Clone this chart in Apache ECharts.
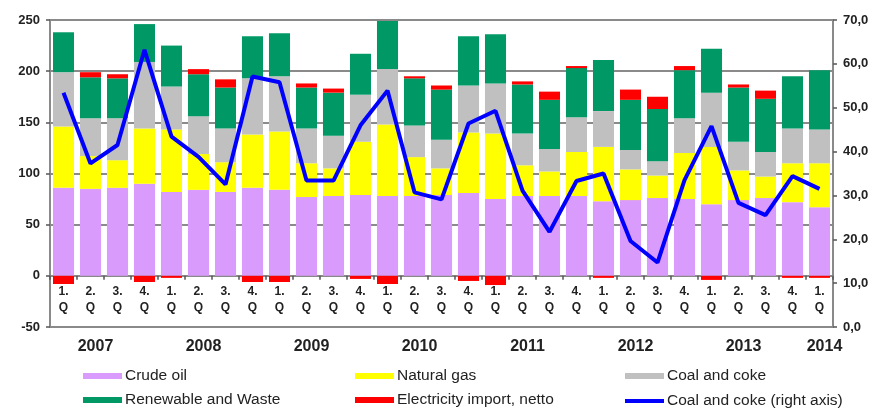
<!DOCTYPE html>
<html>
<head>
<meta charset="utf-8">
<script src="https://cdn.jsdelivr.net/npm/echarts@6/dist/echarts.min.js"></script>
<style>
html,body{margin:0;padding:0;background:#fff;}
#chart{width:876px;height:410px;}
</style>
</head>
<body>
<div id="chart"></div>
<script>
// Quarters 2007 Q1 .. 2014 Q1
var quarterYears = [2007,2007,2007,2007,2008,2008,2008,2008,2009,2009,2009,2009,2010,2010,2010,2010,2011,2011,2011,2011,2012,2012,2012,2012,2013,2013,2013,2013,2014];
var quarterLabels = ['1.\nQ','2.\nQ','3.\nQ','4.\nQ','1.\nQ','2.\nQ','3.\nQ','4.\nQ','1.\nQ','2.\nQ','3.\nQ','4.\nQ','1.\nQ','2.\nQ','3.\nQ','4.\nQ','1.\nQ','2.\nQ','3.\nQ','4.\nQ','1.\nQ','2.\nQ','3.\nQ','4.\nQ','1.\nQ','2.\nQ','3.\nQ','4.\nQ','1.\nQ'];
var years = ['2007','2008','2009','2010','2011','2012','2013','2014'];

var crudeOil = [86,85,86,90,82,84,82,86,84,77,78,79,78,78,79,81,75,78,78,78,73,74,76,75,70,74,76,72,67];
var naturalGas = [60,32,27,54,61,35,29,52,57,33,27,52,70,38,26,59,64,30,24,43,53,30,22,45,56,29,21,38,43];
var coalCoke = [53,37,41,65,42,37,33,55,54,34,32,46,54,31,28,46,49,31,22,34,35,19,14,34,53,28,24,34,33];
var renewable = [39,40,39,37,40,41,40,41,42,40,42,40,47,46,49,48,48,48,48,48,50,49,51,47,43,53,52,51,58];
var electricity = [-8,5,4,-6,-2,5,8,-6,-6,4,4,-3,-8,2,4,-5,-9,3,8,2,-2,10,12,4,-4,3,8,-2,-2];
var coalRight = [53.4,37.3,41.5,63.2,43.4,38.8,32.5,57.1,55.8,33.4,33.4,46.0,53.9,30.7,29.1,46.4,49.3,31.1,21.7,33.3,35.0,19.6,14.7,33.5,45.8,28.3,25.5,34.4,31.5];

var leftTicks = {min:-50, max:250, interval:50};
var rightTicks = {min:0, max:70, interval:10};

// year label placed under each year's 2nd quarter (or its only quarter)
var yearAt = quarterLabels.map(function(){return '';});
years.forEach(function(y){
  var first = quarterYears.indexOf(+y);
  var last = quarterYears.lastIndexOf(+y);
  yearAt[Math.min(first+1,last)] = y;
});

var FONT = "'Liberation Sans', Arial, sans-serif";
var gridColor = '#8a8a8a';

var W = 876, H = 410;
var G = {left:50, right:43, top:20, bottom:83};
var plotH = H - G.top - G.bottom;
// distance of the zero line below the top of the plot, from the left scale
var zeroOffset = plotH * (leftTicks.max - 0) / (leftTicks.max - leftTicks.min);

var chart = echarts.init(document.getElementById('chart'), null, {width:W, height:H});

function legendAt(name, left, top, h){
  return {
    data:[{name:name, icon:'rect'}],
    left:left, top:top, padding:0,
    itemWidth:39, itemHeight:h, itemGap:0,
    textStyle:{fontFamily:FONT, fontSize:15.5, color:'#222', padding:[0,0,0,-2]},
    selectedMode:false
  };
}

var barBase = {type:'bar', stack:'total', barCategoryGap:'22%', xAxisIndex:0, yAxisIndex:0};

chart.setOption({
  animation:false,
  backgroundColor:'#fff',
  grid:{left:G.left, right:G.right, top:G.top, bottom:G.bottom, containLabel:false, outerBoundsMode:'none'},
  legend:[
    legendAt('Crude oil', 83, 368, 6),
    legendAt('Natural gas', 355, 368, 6),
    legendAt('Coal and coke', 625, 368, 6),
    legendAt('Renewable and Waste', 83, 392, 6),
    legendAt('Electricity import, netto', 355, 392, 6),
    legendAt('Coal and coke (right axis)', 625, 393, 4)
  ],
  xAxis:[{
    // quarter axis drawn along the zero line of the left scale
    type:'category', data:quarterLabels, position:'top', offset:-zeroOffset,
    axisLine:{show:true, onZero:false, lineStyle:{color:gridColor, width:2}},
    axisTick:{show:true, inside:true, length:4, lineStyle:{color:'#555', width:1.5}},
    axisLabel:{inside:true, interval:0, fontFamily:FONT, fontSize:12, fontWeight:'bold', color:'#222', lineHeight:16, margin:8},
    splitLine:{show:false}
  },{
    type:'category', data:yearAt, position:'bottom',
    axisLine:{show:false, onZero:false}, axisTick:{show:false},
    axisLabel:{interval:0, fontFamily:FONT, fontSize:16, fontWeight:'bold', color:'#222', margin:12, padding:[0,0,0,10]},
    splitLine:{show:false}
  }],
  yAxis:[{
    type:'value', min:leftTicks.min, max:leftTicks.max, interval:leftTicks.interval, position:'left',
    axisLine:{show:true, lineStyle:{color:gridColor, width:2}},
    axisTick:{show:true, length:4, lineStyle:{color:'#555', width:1.5}},
    axisLabel:{fontFamily:FONT, fontSize:13, fontWeight:'bold', color:'#222', margin:10},
    splitLine:{show:true, lineStyle:{color:gridColor, width:2}}
  },{
    type:'value', min:rightTicks.min, max:rightTicks.max, interval:rightTicks.interval, position:'right',
    axisLine:{show:true, lineStyle:{color:gridColor, width:2}},
    axisTick:{show:true, length:4, lineStyle:{color:'#555', width:1.5}},
    axisLabel:{fontFamily:FONT, fontSize:13, fontWeight:'bold', color:'#222', margin:10,
      formatter:function(v){return v.toFixed(1).replace('.', ',');}},
    splitLine:{show:false}
  }],
  series:[
    Object.assign({name:'Crude oil', data:crudeOil, itemStyle:{color:'#d99cfc'}}, barBase),
    Object.assign({name:'Natural gas', data:naturalGas, itemStyle:{color:'#ffff00'}}, barBase),
    Object.assign({name:'Coal and coke', data:coalCoke, itemStyle:{color:'#c0c0c0'}}, barBase),
    Object.assign({name:'Renewable and Waste', data:renewable, itemStyle:{color:'#009966'}}, barBase),
    Object.assign({name:'Electricity import, netto', data:electricity, itemStyle:{color:'#ff0000'}}, barBase),
    {name:'Coal and coke (right axis)', type:'line', data:coalRight, xAxisIndex:0, yAxisIndex:1,
     symbol:'none', lineStyle:{color:'#0000ff', width:4}, itemStyle:{color:'#0000ff'}, z:5}
  ]
});
</script>
</body>
</html>
